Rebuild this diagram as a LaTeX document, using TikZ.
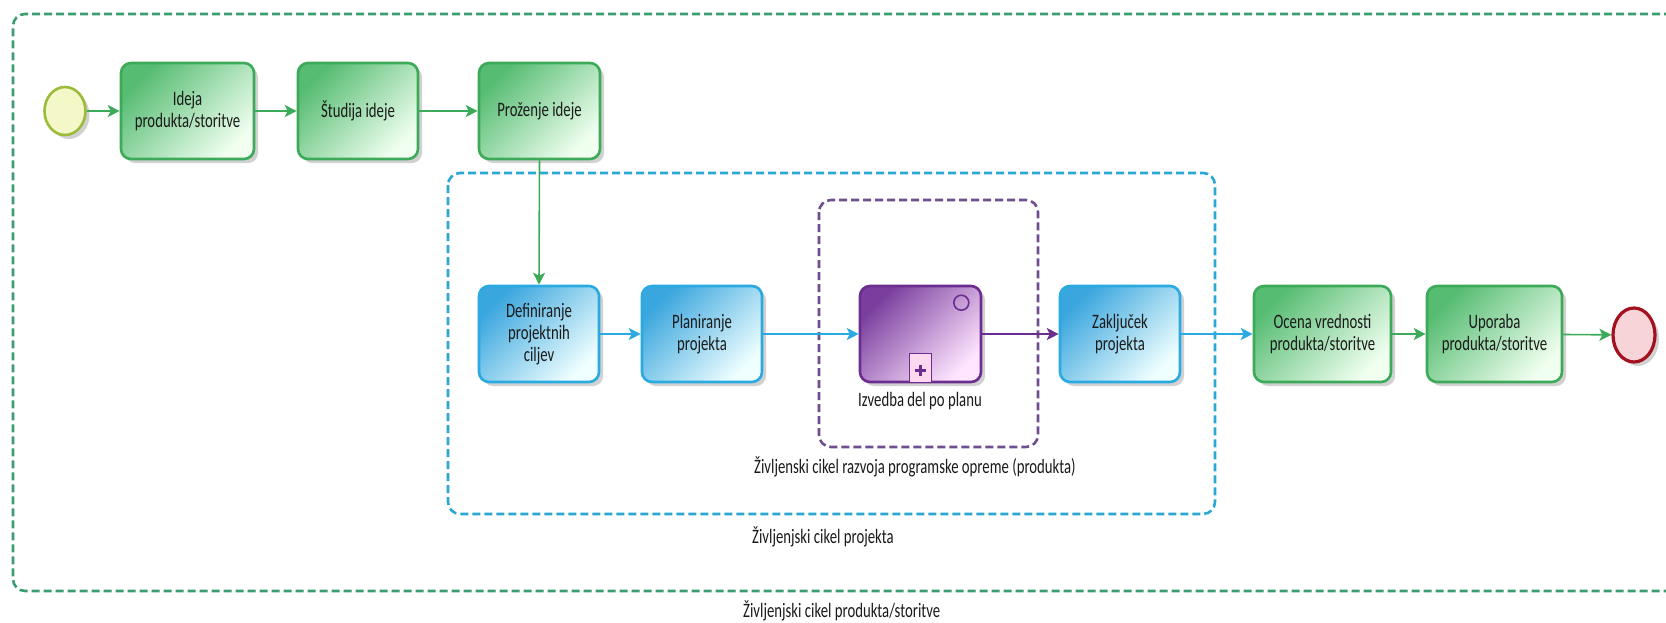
\documentclass[tikz,border=0pt]{standalone}
\usepackage{fontspec}
\setmainfont{Carlito}[FakeStretch=0.72]
\usetikzlibrary{arrows.meta,shadows,shapes.geometric}
\definecolor{gline}{HTML}{3DAA5A}
\definecolor{gfill}{HTML}{56BC72}
\definecolor{bline}{HTML}{2AAAE0}
\definecolor{bfill}{HTML}{3AA6DE}
\definecolor{pline}{HTML}{6B2D8F}
\definecolor{pfill}{HTML}{7A3E9E}
\definecolor{gdash}{HTML}{3A9E70}
\definecolor{bdash}{HTML}{2BA7D4}
\definecolor{pdash}{HTML}{6E4E8E}
\definecolor{sline}{HTML}{9DBB3A}
\definecolor{sfill}{HTML}{F4F8C8}
\definecolor{eline}{HTML}{A3101E}
\definecolor{efill}{HTML}{F6D4D8}
\definecolor{txt}{HTML}{1A1A1A}
\begin{document}
\begin{tikzpicture}[x=1pt,y=-1pt,
  every node/.style={font=\fontsize{20.5}{22}\selectfont, text=txt},
  shad/.style={drop shadow={shadow xshift=4pt, shadow yshift=-4pt, opacity=0.18, fill=black}},
  taskbox/.style={rounded corners=10pt, line width=2.6pt, minimum height=96pt, inner sep=2pt, align=center, shad},
  gtask/.style={taskbox, draw=gline, top color=gfill, bottom color=white!94!green, shading angle=45},
  btask/.style={taskbox, draw=bline, top color=bfill, bottom color=white!94!cyan, shading angle=45},
  ptask/.style={taskbox, draw=pline, top color=pfill, bottom color=white!90!magenta, shading angle=45},
  startev/.style={ellipse, draw=sline, fill=sfill, line width=2.6pt, minimum width=41pt, minimum height=48pt, inner sep=0pt, shad},
  endev/.style={ellipse, draw=eline, fill=efill, line width=3.2pt, minimum width=42pt, minimum height=54pt, inner sep=0pt, shad},
  flow/.style={line width=1.6pt, -{Stealth[length=12pt, width=12pt, inset=3pt]}},
  gflow/.style={flow, draw=gline, fill=gline},
  bflow/.style={flow, draw=bline, fill=bline},
  pflow/.style={flow, draw=pline, fill=pline},
  lane/.style={rounded corners=12pt, line width=2.6pt, dash pattern=on 8pt off 4pt},
  lanelabel/.style={anchor=base west, inner sep=0pt}
]
\clip (0,0) rectangle (1666,622);
\fill[white] (0,0) rectangle (1666,622);

% containers
\draw[lane, draw=gdash] (1720,14) -- (13,14) -- (13,591) -- (1720,591);
\draw[lane, draw=bdash] (448,173) rectangle (1215,514);
\draw[lane, draw=pdash] (819,200) rectangle (1038,447);
\node[lanelabel] (lblp) at (754,473) {Življenski cikel razvoja programske opreme (produkta)};
\node[lanelabel] (lblb) at (752,543) {Življenjski cikel projekta};
\node[lanelabel] (lblg) at (743,617) {Življenjski cikel produkta/storitve};

% top row
\node[startev] (start) at (65,111) {};
\node[gtask, minimum width=133pt] (ideja) at (187.5,111) {Ideja\\produkta/storitve};
\node[gtask, minimum width=120pt] (studija) at (358,111) {Študija ideje};
\node[gtask, minimum width=121pt] (prozenje) at (539.5,111) {Proženje ideje};

% middle row
\node[btask, minimum width=120pt] (def) at (539,334) {Definiranje\\projektnih\\ciljev};
\node[btask, minimum width=120pt] (plan) at (702,334) {Planiranje\\projekta};
\node[ptask, minimum width=121pt] (izv) at (920.5,334) {};
\node[anchor=base, inner sep=0pt] (izvlbl) at (920,406) {Izvedba del po planu};
\draw[pline, line width=1.6pt] ([xshift=-21pt,yshift=-18pt]izv.north east) circle (7.5pt);
\node[draw=pline, line width=1.6pt, fill=white!85!magenta, minimum width=22pt, minimum height=29pt, inner sep=0pt, anchor=south] (mark) at (izv.south) {};
\fill[pline] ([xshift=-1.9pt,yshift=3pt]mark.center) rectangle ([xshift=1.9pt,yshift=-8pt]mark.center);
\fill[pline] ([xshift=-5.5pt,yshift=-0.6pt]mark.center) rectangle ([xshift=5.5pt,yshift=-4.4pt]mark.center);
\node[btask, minimum width=120pt] (zak) at (1120,334) {Zaključek\\projekta};
\node[gtask, minimum width=137pt] (ocena) at (1322.5,334) {Ocena vrednosti\\produkta/storitve};
\node[gtask, minimum width=135pt] (upo) at (1494.5,334) {Uporaba\\produkta/storitve};
\node[endev] (end) at (1634,335) {};

% flows
\draw[gflow] (start) -- (ideja);
\draw[gflow] (ideja) -- (studija);
\draw[gflow] (studija) -- (prozenje);
\draw[gflow] (prozenje.south) -- (def.north);
\draw[bflow] (def) -- (plan);
\draw[bflow] (plan) -- (izv);
\draw[pflow] (izv) -- (zak);
\draw[bflow] (zak) -- (ocena);
\draw[gflow] (ocena) -- (upo);
\draw[gflow] (upo) -- (end);
\end{tikzpicture}
\end{document}
